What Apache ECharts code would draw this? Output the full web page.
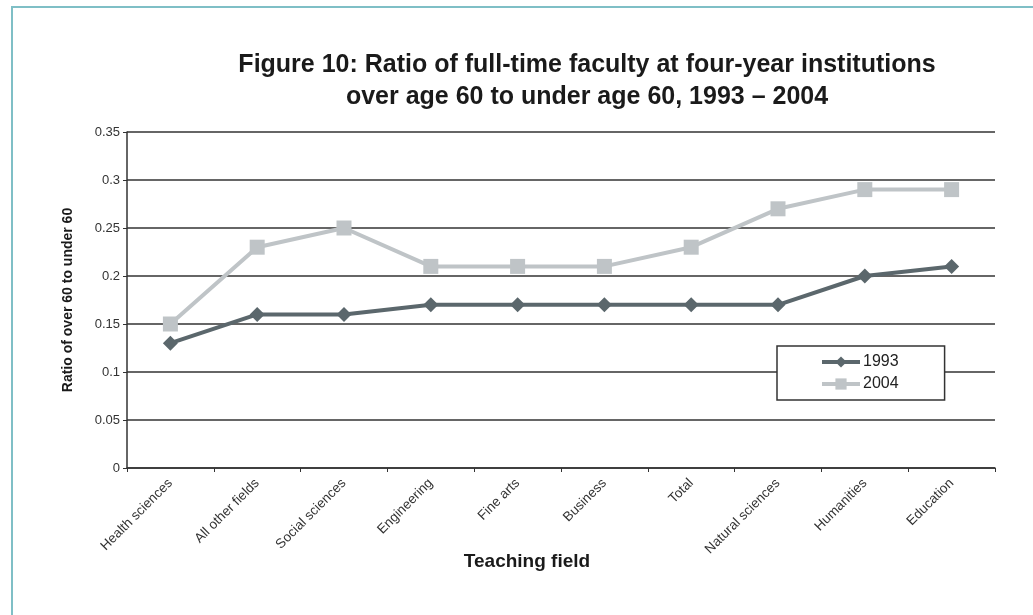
<!DOCTYPE html>
<html>
<head>
<meta charset="utf-8">
<script src="https://cdn.jsdelivr.net/npm/echarts@6/dist/echarts.min.js"></script>
<style>
  html, body { margin: 0; padding: 0; background: #fff; }
  #frame { position: absolute; left: 11px; top: 6px; width: 1030px; height: 620px;
           border-left: 2px solid #7fbfc6; border-top: 2px solid #7fbfc6; }
  #chart { position: absolute; left: 0; top: 0; width: 1033px; height: 615px; }
</style>
</head>
<body>
<div id="frame"></div>
<div id="chart"></div>
<script>
// teaching fields, in the order shown
var fields = ['Health sciences', 'All other fields', 'Social sciences', 'Engineering',
  'Fine arts', 'Business', 'Total', 'Natural sciences', 'Humanities', 'Education'];
var ratio1993 = [0.13, 0.16, 0.16, 0.17, 0.17, 0.17, 0.17, 0.17, 0.20, 0.21];
var ratio2004 = [0.15, 0.23, 0.25, 0.21, 0.21, 0.21, 0.23, 0.27, 0.29, 0.29];
var yTicks = ['0', '0.05', '0.1', '0.15', '0.2', '0.25', '0.3', '0.35'];

var dark = '#5b676c', light = '#bfc4c7';

var chart = echarts.init(document.getElementById('chart'));

var option = {
  backgroundColor: 'transparent',
  animation: false,
  title: {
    text: 'Figure 10: Ratio of full-time faculty at four-year institutions\nover age 60 to under age 60, 1993 \u2013 2004',
    left: 582,
    top: 44,
    textAlign: 'center',
    textStyle: {
      fontFamily: 'Liberation Sans Narrow, Arial Narrow, sans-serif',
      fontWeight: 'bold',
      fontSize: 25,
      lineHeight: 32,
      color: '#1a1a1a'
    }
  },
  legend: {
    orient: 'vertical',
    left: 777,
    top: 346,
    backgroundColor: '#fff',
    borderColor: '#333',
    borderWidth: 1.5,
    borderRadius: 0,
    padding: [8, 46, 8, 43],
    itemGap: 6,
    itemWidth: 38,
    itemHeight: 14,
    textStyle: { fontFamily: 'Liberation Sans, Arial, sans-serif', fontSize: 16, color: '#222', padding: [0, 0, 0, -2] },
    data: [
      { name: '1993', lineStyle: { width: 4 } },
      { name: '2004', lineStyle: { width: 4 } }
    ]
  },
  grid: { left: 127, right: 38, top: 132, bottom: 147 },
  xAxis: {
    type: 'category',
    data: fields,
    boundaryGap: true,
    name: 'Teaching field',
    nameLocation: 'middle',
    nameGap: 84,
    nameMoveOverlap: false,
    nameTextStyle: {
      fontFamily: 'Liberation Sans Narrow, Arial Narrow, sans-serif',
      fontWeight: 'bold',
      fontSize: 19,
      color: '#1a1a1a',
      padding: [0, 68, 0, 0]
    },
    axisLine: { lineStyle: { color: '#333', width: 1.5 } },
    axisTick: { show: true, alignWithLabel: false, length: 4, lineStyle: { color: '#333' } },
    axisLabel: {
      rotate: 45,
      margin: 13,
      fontFamily: 'Liberation Sans, Arial, sans-serif',
      fontSize: 13.5,
      color: '#333'
    }
  },
  yAxis: {
    type: 'value',
    min: 0,
    max: 0.35,
    interval: 0.05,
    name: 'Ratio of over 60 to under 60',
    nameLocation: 'middle',
    nameGap: 52,
    nameTextStyle: {
      fontFamily: 'Liberation Sans, Arial, sans-serif',
      fontWeight: 'bold',
      fontSize: 14,
      color: '#1a1a1a'
    },
    axisLine: { show: true, lineStyle: { color: '#333', width: 1.5 } },
    axisTick: { show: true, length: 4, lineStyle: { color: '#333' } },
    axisLabel: {
      margin: 7,
      fontFamily: 'Liberation Sans, Arial, sans-serif',
      fontSize: 13,
      color: '#333',
      formatter: function (v) { return yTicks[Math.round(v / 0.05)]; }
    },
    splitLine: { show: true, lineStyle: { color: '#333', width: 1.5 } }
  },
  series: [
    {
      name: '1993',
      type: 'line',
      data: ratio1993,
      symbol: 'diamond',
      symbolSize: 15,
      lineStyle: { color: dark, width: 4 },
      itemStyle: { color: dark },
      z: 3
    },
    {
      name: '2004',
      type: 'line',
      data: ratio2004,
      symbol: 'rect',
      symbolSize: 15,
      lineStyle: { color: light, width: 4 },
      itemStyle: { color: light },
      z: 2
    }
  ]
};

chart.setOption(option);
</script>
</body>
</html>
